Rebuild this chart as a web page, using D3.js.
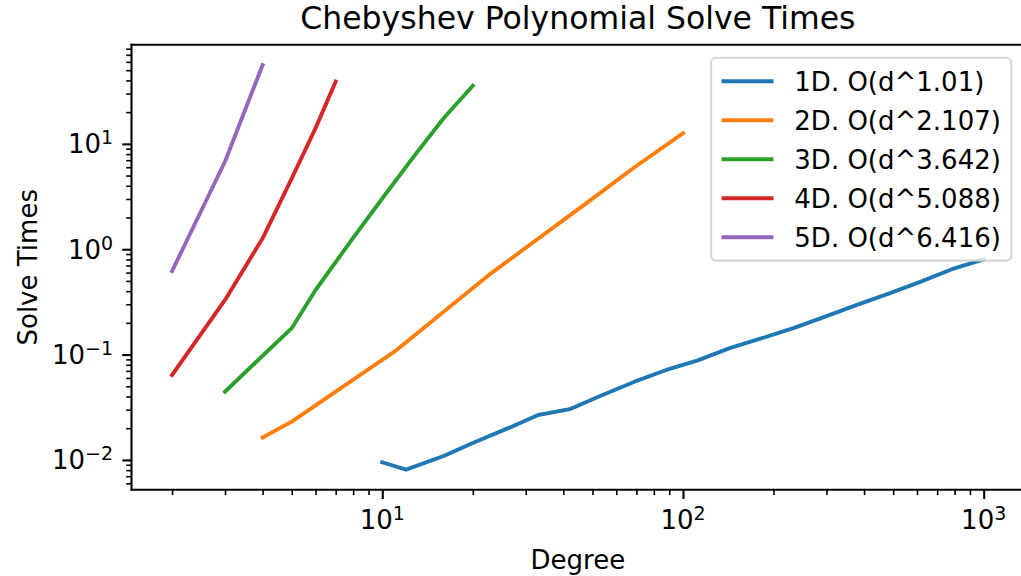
<!DOCTYPE html>
<html>
<head>
<meta charset="utf-8">
<script src="https://cdn.jsdelivr.net/npm/d3@7"></script>
<style>
  html, body { margin: 0; padding: 0; background: #fff; }
  svg { display: block; font-family: "DejaVu Sans", sans-serif; }
</style>
</head>
<body>
<svg id="chart" width="1021" height="576"></svg>
<script>
// ---- data ----
const degrees1 = [10, 12, 16, 20, 26, 33, 42, 54, 69, 88, 112, 143, 183, 233, 297, 379, 483, 615, 784, 1000];
const times1   = [0.0095, 0.0081, 0.0109, 0.0145, 0.0198, 0.0267, 0.0303, 0.0413, 0.0553, 0.0714, 0.088, 0.115, 0.143, 0.178, 0.229, 0.296, 0.379, 0.49, 0.646, 0.80];
const degrees2 = [4, 5, 11, 23, 48, 69, 100];
const times2   = [0.0163, 0.0231, 0.107, 0.59, 2.77, 6.0, 12.6];
const degrees3 = [3, 4, 5, 6, 8, 10, 13, 16, 20];
const times3   = [0.0444, 0.0975, 0.178, 0.41, 1.28, 3.03, 8.2, 17.5, 35.6];
const degrees4 = [2, 3, 4, 5, 6, 7];
const times4   = [0.064, 0.33, 1.27, 4.7, 14.1, 39];
const degrees5 = [2, 3, 4];
const times5   = [0.62, 6.8, 56];
const seriesLabels = ["1D. O(d^1.01)", "2D. O(d^2.107)", "3D. O(d^3.642)", "4D. O(d^5.088)", "5D. O(d^6.416)"];
const colors = ["#1f77b4", "#ff7f0e", "#2ca02c", "#d62728", "#9467bd"];
const xMajorTicks = [10, 100, 1000];
const yMajorTicks = [0.01, 0.1, 1, 10];
const xTickExponents = ["1", "2", "3"];
const yTickExponents = ["\u22122", "\u22121", "0", "1"];
const titleText = "Chebyshev Polynomial Solve Times";
const xLabelText = "Degree";
const yLabelText = "Solve Times";

const allDeg = [degrees1, degrees2, degrees3, degrees4, degrees5];
const allTime = [times1, times2, times3, times4, times5];

// ---- layout ----
const W = 1021, H = 576;
const axLeft = 131.5, axRight = 1024.3, axTop = 44.8, axBottom = 489.8;
const FS = 26, TITLE_FS = 31.5, SUP_FS = 19;
const LW = 3.9, SPINE = 2.1;

// autoscale like matplotlib (5% margin in log space)
function logExtent(arrs) {
  const flat = arrs.flat();
  const lo = Math.log10(d3.min(flat)), hi = Math.log10(d3.max(flat));
  const m = (hi - lo) * 0.05;
  return [Math.pow(10, lo - m), Math.pow(10, hi + m)];
}
const x = d3.scaleLog().domain(logExtent(allDeg)).range([axLeft, axRight]);
const y = d3.scaleLog().domain(logExtent(allTime)).range([axBottom, axTop]);

const svg = d3.select("#chart");
svg.append("rect").attr("width", W).attr("height", H).attr("fill", "#fff");

svg.append("defs").append("clipPath").attr("id", "clip")
  .append("rect").attr("x", axLeft).attr("y", axTop).attr("width", axRight - axLeft).attr("height", axBottom - axTop);

// minor ticks
function minorTicks(scale) {
  const [a, b] = scale.domain();
  const out = [];
  for (let e = Math.floor(Math.log10(a)); e <= Math.ceil(Math.log10(b)); e++) {
    for (let k = 2; k <= 9; k++) {
      const v = k * Math.pow(10, e);
      if (v >= a && v <= b) out.push(v);
    }
  }
  return out;
}

const xMinorAxis = d3.axisBottom(x).tickValues(minorTicks(x)).tickSize(5.3).tickSizeOuter(0).tickFormat("");
const xMajorAxis = d3.axisBottom(x).tickValues(xMajorTicks).tickSize(9.2).tickSizeOuter(0).tickFormat("");
const yMinorAxis = d3.axisLeft(y).tickValues(minorTicks(y)).tickSize(5.3).tickSizeOuter(0).tickFormat("");
const yMajorAxis = d3.axisLeft(y).tickValues(yMajorTicks).tickSize(9.2).tickSizeOuter(0).tickFormat("");

function styleAxis(g, w) {
  g.select(".domain").remove();
  g.selectAll(".tick line").attr("stroke", "#000").attr("stroke-width", w);
}
svg.append("g").attr("transform", `translate(0,${axBottom})`).call(xMinorAxis).call(g => styleAxis(g, 1.6));
svg.append("g").attr("transform", `translate(0,${axBottom})`).call(xMajorAxis).call(g => styleAxis(g, 2.1));
svg.append("g").attr("transform", `translate(${axLeft},0)`).call(yMinorAxis).call(g => styleAxis(g, 1.6));
svg.append("g").attr("transform", `translate(${axLeft},0)`).call(yMajorAxis).call(g => styleAxis(g, 2.1));

// tick labels
xMajorTicks.forEach((v, i) => {
  const t = svg.append("text").attr("x", x(v)).attr("y", 529.3)
    .attr("text-anchor", "middle").attr("font-size", FS).attr("fill", "#000");
  t.append("tspan").text("10");
  t.append("tspan").attr("font-size", SUP_FS).attr("dy", -9).text(xTickExponents[i]);
});
yMajorTicks.forEach((v, i) => {
  const t = svg.append("text").attr("x", axLeft - 9.2 - 9.2).attr("y", y(v) + 9.4)
    .attr("text-anchor", "end").attr("font-size", FS).attr("fill", "#000");
  t.append("tspan").text("10");
  t.append("tspan").attr("font-size", SUP_FS).attr("dy", -9).text(yTickExponents[i]);
});

// lines
const line = d3.line().x(d => x(d[0])).y(d => y(d[1]));
const plot = svg.append("g").attr("clip-path", "url(#clip)");
allDeg.forEach((deg, i) => {
  const pts = deg.map((d, j) => [d, allTime[i][j]]);
  plot.append("path").datum(pts).attr("d", line)
    .attr("fill", "none").attr("stroke", colors[i]).attr("stroke-width", LW)
    .attr("stroke-linecap", "square").attr("stroke-linejoin", "round");
});

// spines
svg.append("line").attr("x1", axLeft).attr("x2", axLeft).attr("y1", axTop).attr("y2", axBottom)
  .attr("stroke", "#000").attr("stroke-width", SPINE).attr("stroke-linecap", "square");
svg.append("line").attr("x1", axLeft).attr("x2", axRight).attr("y1", axBottom).attr("y2", axBottom)
  .attr("stroke", "#000").attr("stroke-width", SPINE).attr("stroke-linecap", "square");
svg.append("line").attr("x1", axLeft).attr("x2", axRight).attr("y1", axTop).attr("y2", axTop)
  .attr("stroke", "#000").attr("stroke-width", SPINE).attr("stroke-linecap", "square");
svg.append("line").attr("x1", axRight).attr("x2", axRight).attr("y1", axTop).attr("y2", axBottom)
  .attr("stroke", "#000").attr("stroke-width", SPINE);

// title & axis labels
svg.append("text").attr("x", (axLeft + axRight) / 2).attr("y", axTop - 15.8)
  .attr("text-anchor", "middle").attr("font-size", TITLE_FS).attr("fill", "#000").text(titleText);
svg.append("text").attr("x", (axLeft + axRight) / 2).attr("y", 569)
  .attr("text-anchor", "middle").attr("font-size", FS).attr("fill", "#000").text(xLabelText);
svg.append("text").attr("transform", `translate(36.5,${(axTop + axBottom) / 2}) rotate(-90)`)
  .attr("text-anchor", "middle").attr("font-size", FS).attr("fill", "#000").text(yLabelText);

// legend
const pad = 0.5 * FS, borderPad = 0.4 * FS, handleLen = 2.0 * FS, handleTextPad = 0.8 * FS, labelSpacing = 0.5 * FS;
const rowH = FS * 1.0;
const leg = svg.append("g");
const box = leg.append("rect");
const texts = seriesLabels.map(s => leg.append("text").attr("font-size", FS).attr("fill", "#000").text(s));
const maxW = d3.max(texts, t => t.node().getComputedTextLength());
const legW = 2 * borderPad + handleLen + handleTextPad + maxW;
const legH = 2 * borderPad + seriesLabels.length * rowH + (seriesLabels.length - 1) * labelSpacing;
const lx = axRight - pad - legW, ly = axTop + pad;
box.attr("x", lx).attr("y", ly).attr("width", legW).attr("height", legH).attr("rx", 5).attr("ry", 5)
  .attr("fill", "#fff").attr("fill-opacity", 0.8)
  .attr("stroke", "#cccccc").attr("stroke-opacity", 0.8).attr("stroke-width", 2.1);
seriesLabels.forEach((s, i) => {
  const cy = ly + borderPad + rowH / 2 + i * (rowH + labelSpacing);
  leg.append("line").attr("x1", lx + borderPad + 2).attr("x2", lx + borderPad + handleLen - 2)
    .attr("y1", cy).attr("y2", cy).attr("stroke", colors[i]).attr("stroke-width", LW).attr("stroke-linecap", "square");
  texts[i].attr("x", lx + borderPad + handleLen + handleTextPad).attr("y", cy + 9.4);
  texts[i].raise();
});
</script>
</body>
</html>
